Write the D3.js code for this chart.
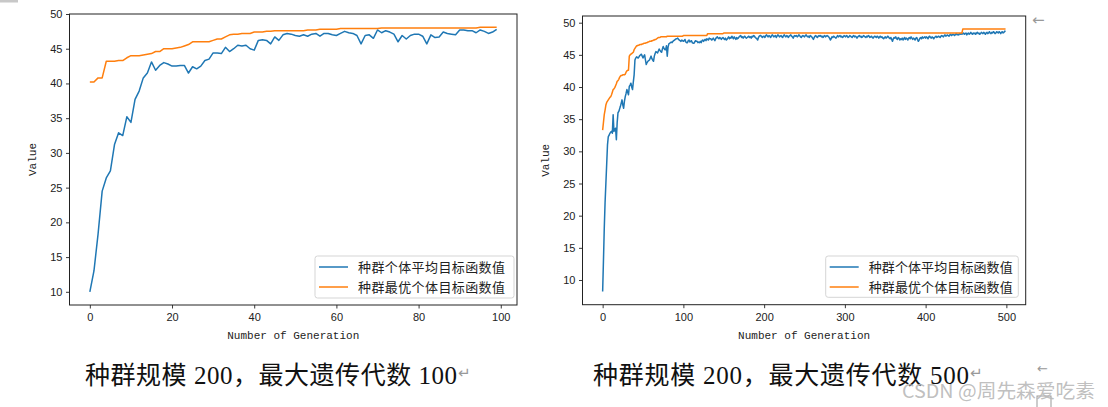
<!DOCTYPE html>
<html><head><meta charset="utf-8">
<script src="https://cdn.jsdelivr.net/npm/d3@7"></script>
<style>body{margin:0;background:#fff}svg{display:block}</style>
</head><body><svg id="c" width="1108" height="407"></svg>
<script>
// ---------- data ----------
const seriesNames = ["种群个体平均目标函数值", "种群最优个体目标函数值"];
const captions = ["种群规模 200，最大遗传代数 100", "种群规模 200，最大遗传代数 500"];
const xTicks100 = [0, 20, 40, 60, 80, 100];
const xTicks500 = [0, 100, 200, 300, 400, 500];
const yTicks = [10, 15, 20, 25, 30, 35, 40, 45, 50];

const avg100 = [
10.0,13.0,18.3,24.5,26.4,27.4,31.2,32.9,32.5,35.2,
34.4,37.7,38.9,40.8,41.5,43.1,41.9,42.6,43.0,42.8,
42.5,42.5,42.6,42.6,41.5,42.4,42.1,42.5,43.3,43.5,
44.4,44.4,44.3,45.2,44.6,45.0,45.5,45.4,45.5,45.0,
44.8,46.2,46.3,46.2,45.7,46.7,46.2,47.0,47.2,47.1,
46.9,46.8,47.0,46.8,47.1,47.2,46.8,47.2,47.2,47.0,
46.9,47.2,47.5,47.3,47.2,46.9,45.7,46.9,47.0,46.5,
47.7,47.3,47.6,47.4,47.1,46.0,46.9,46.4,46.9,47.1,
47.1,46.8,45.7,47.0,46.6,46.7,47.4,47.2,47.1,47.0,
47.7,47.7,47.6,47.6,47.3,47.7,47.5,47.2,47.4,47.8];

const best100 = [
40.2,40.2,40.8,40.8,43.2,43.2,43.2,43.3,43.3,43.7,
44.0,44.0,44.0,44.1,44.2,44.3,44.6,44.6,45.0,45.0,
45.0,45.1,45.2,45.4,45.6,46.0,46.0,46.0,46.0,46.0,
46.2,46.4,46.4,46.7,47.0,47.1,47.1,47.2,47.2,47.2,
47.4,47.4,47.4,47.5,47.5,47.6,47.6,47.6,47.6,47.6,
47.6,47.6,47.6,47.7,47.7,47.7,47.8,47.8,47.8,47.8,
47.8,47.9,47.9,47.9,47.9,47.9,47.9,47.9,47.9,47.9,
47.9,48.0,48.0,48.0,48.0,48.0,48.0,48.0,48.0,48.0,
48.0,48.0,48.0,48.0,48.0,48.0,48.0,48.0,48.0,48.0,
48.0,48.0,48.0,48.0,48.0,48.1,48.1,48.1,48.1,48.1];

const avg500 = [
8.2,13.0,18.0,22.0,25.0,28.0,31.0,32.3,32.5,32.8,33.0,33.1,32.8,35.7,33.1,33.4,33.6,31.8,34.5,36.0,
36.2,36.6,37.0,37.5,38.0,37.2,36.7,37.8,38.5,39.0,39.6,39.2,38.8,40.1,40.3,40.6,40.0,39.6,40.8,41.9,
44.2,44.5,44.7,44.6,44.5,44.7,44.9,45.0,45.1,44.8,44.5,44.8,45.0,44.2,43.5,43.8,44.0,44.1,44.2,44.5,
44.8,44.4,44.2,44.0,44.8,45.2,45.5,45.4,45.3,45.6,45.9,45.7,45.5,45.4,45.9,46.3,46.0,45.8,45.8,46.4,
44.8,46.2,46.7,46.8,46.9,47.0,46.9,47.1,47.2,47.3,47.4,47.5,47.5,47.6,47.4,47.3,47.2,47.1,47.3,47.2,
47.1,47.2,47.4,47.0,46.9,46.9,47.2,47.3,47.0,47.1,47.2,46.9,46.8,46.8,47.0,47.2,47.1,47.1,46.9,47.0,
46.9,47.1,46.9,47.2,47.3,47.1,47.3,47.4,47.2,47.5,47.4,47.3,47.6,47.5,47.5,47.3,47.4,47.6,47.4,47.2,
47.5,47.7,47.8,47.6,47.5,47.7,47.6,47.4,47.6,47.7,47.5,47.4,47.6,47.3,47.4,47.6,47.8,47.5,47.7,47.6,
47.9,47.7,47.5,47.8,47.6,47.4,47.7,47.5,47.6,47.8,47.9,48.0,47.7,47.8,47.6,47.8,47.9,47.7,47.6,47.7,
47.8,47.9,47.7,47.8,47.6,47.9,47.8,48.0,47.9,47.7,47.6,47.5,47.3,47.7,47.9,48.0,48.0,47.8,47.7,47.9,
47.9,47.7,48.0,48.1,47.9,47.8,48.0,47.9,47.7,47.9,48.1,48.0,47.8,47.9,48.0,47.7,47.9,48.1,48.0,47.8,
47.9,48.0,47.8,47.7,48.0,48.1,47.9,47.8,48.0,47.9,47.7,47.9,48.0,48.1,47.9,47.8,47.6,47.9,48.0,47.9,
48.0,47.8,47.9,48.1,48.0,47.8,47.7,47.9,48.0,47.9,47.8,48.0,48.1,47.9,47.8,47.9,47.7,48.0,47.9,47.8,
47.6,47.4,47.7,47.9,48.0,47.8,47.7,47.9,48.0,47.9,48.0,47.8,47.9,47.7,47.9,48.0,47.8,47.9,48.0,47.9,
47.8,47.6,47.3,47.5,47.8,47.7,47.9,47.8,47.7,47.6,47.8,48.0,47.8,47.9,48.0,47.8,47.9,47.7,47.8,48.0,
47.9,47.8,48.0,47.9,47.7,47.8,48.0,47.9,47.8,47.7,47.9,48.0,47.8,47.9,47.8,47.6,47.8,47.9,48.0,47.8,
47.9,47.7,47.8,48.0,47.9,47.8,47.7,47.9,47.8,48.0,47.9,47.7,47.8,47.9,47.7,47.6,47.8,47.9,47.8,47.7,
47.9,47.8,47.6,47.8,47.9,47.7,47.8,47.6,47.5,47.7,47.8,47.6,47.7,47.9,47.8,47.6,47.5,47.7,47.4,47.1,
47.5,47.7,47.6,47.8,47.5,47.4,47.7,47.6,47.3,47.5,47.4,47.6,47.3,47.5,47.7,47.4,47.6,47.5,47.3,47.6,
47.7,47.5,47.8,47.6,47.4,47.6,47.5,47.3,47.6,47.7,47.4,47.1,47.3,47.6,47.7,47.5,47.8,47.6,47.7,47.8,
47.6,47.8,47.7,47.5,47.8,47.9,47.7,47.6,47.8,47.7,47.5,47.7,47.8,47.9,47.7,47.8,47.9,47.8,47.7,47.9,
48.0,47.9,47.8,48.0,48.1,47.9,48.0,48.1,48.0,47.9,48.1,48.2,48.0,48.1,48.2,48.1,48.0,48.2,48.3,48.1,
48.2,48.1,48.3,48.2,48.3,48.2,48.3,48.4,48.2,48.3,48.4,48.1,48.3,48.4,48.2,48.3,48.5,48.3,48.2,48.4,
48.3,48.4,48.2,48.4,48.5,48.3,48.4,48.2,48.3,48.5,48.4,48.3,48.5,48.4,48.2,48.4,48.5,48.3,48.4,48.6,
48.4,48.3,48.5,48.4,48.6,48.5,48.3,48.4,48.6,48.5,48.4,48.6,48.5,48.3,48.5,48.6,48.4,48.5,48.7,48.6];

const best500 = [
33.3,34.5,35.7,36.4,37.2,37.6,37.8,38.0,38.2,38.4,38.5,38.8,39.2,39.6,39.7,39.9,40.2,40.5,40.9,41.0,
41.2,41.5,41.7,41.8,41.8,41.9,41.9,41.9,42.0,42.3,42.5,42.6,42.6,44.8,45.0,45.1,45.2,45.3,45.4,45.8,
46.0,46.2,46.4,46.4,46.5,46.5,46.6,46.6,46.6,46.7,46.7,46.8,46.8,46.8,46.9,46.9,47.0,47.0,47.1,47.1,
47.1,47.2,47.2,47.3,47.3,47.4,47.4,47.5,47.6,47.7,47.7,47.7,47.8,47.8,47.8,47.8,47.8,47.8,47.8,47.8,
47.9,47.9,47.9,47.9,47.9,47.9,47.9,47.9,47.9,47.9,47.9,47.9,47.9,47.9,47.9,47.9,47.9,47.9,47.9,47.9,
48.0,48.0,48.0,48.0,48.0,48.0,48.0,48.0,48.0,48.0,48.0,48.0,48.0,48.0,48.0,48.0,48.0,48.0,48.0,48.0,
48.0,48.0,48.0,48.0,48.0,48.0,48.0,48.0,48.0,48.0,48.3,48.3,48.3,48.3,48.3,48.3,48.3,48.3,48.3,48.3,
48.3,48.3,48.3,48.3,48.3,48.3,48.3,48.3,48.3,48.3,48.4,48.4,48.4,48.4,48.4,48.4,48.4,48.4,48.4,48.4,
48.4,48.4,48.4,48.4,48.4,48.4,48.4,48.4,48.4,48.4,48.4,48.4,48.4,48.4,48.4,48.4,48.4,48.4,48.4,48.4,
48.4,48.4,48.4,48.4,48.4,48.4,48.4,48.4,48.4,48.4,48.4,48.4,48.4,48.4,48.4,48.4,48.4,48.4,48.4,48.4,
48.4,48.4,48.4,48.4,48.4,48.4,48.4,48.4,48.4,48.4,48.4,48.4,48.4,48.4,48.4,48.4,48.4,48.4,48.4,48.4,
48.4,48.4,48.4,48.4,48.4,48.4,48.4,48.4,48.4,48.4,48.4,48.4,48.4,48.4,48.4,48.4,48.4,48.4,48.4,48.4,
48.4,48.4,48.4,48.4,48.4,48.4,48.4,48.4,48.4,48.4,48.4,48.4,48.4,48.4,48.4,48.4,48.4,48.4,48.4,48.4,
48.4,48.4,48.4,48.4,48.4,48.4,48.4,48.4,48.4,48.4,48.4,48.4,48.4,48.4,48.4,48.4,48.4,48.4,48.4,48.4,
48.4,48.4,48.4,48.4,48.4,48.4,48.4,48.4,48.4,48.4,48.4,48.4,48.4,48.4,48.4,48.4,48.4,48.4,48.4,48.4,
48.4,48.4,48.4,48.4,48.4,48.4,48.4,48.4,48.4,48.4,48.4,48.4,48.4,48.4,48.4,48.4,48.4,48.4,48.4,48.4,
48.4,48.4,48.4,48.4,48.4,48.4,48.4,48.4,48.4,48.4,48.4,48.4,48.4,48.4,48.4,48.4,48.4,48.4,48.4,48.4,
48.4,48.4,48.4,48.4,48.4,48.4,48.4,48.4,48.4,48.4,48.4,48.4,48.4,48.4,48.4,48.4,48.4,48.4,48.4,48.4,
48.4,48.4,48.4,48.4,48.4,48.4,48.4,48.4,48.4,48.4,48.4,48.4,48.4,48.4,48.4,48.4,48.4,48.4,48.4,48.4,
48.4,48.4,48.4,48.4,48.4,48.4,48.4,48.4,48.4,48.4,48.4,48.4,48.4,48.4,48.4,48.4,48.4,48.4,48.4,48.4,
48.4,48.4,48.4,48.4,48.4,48.4,48.4,48.4,48.4,48.4,48.4,48.4,48.4,48.4,48.4,48.4,48.4,48.4,48.4,48.4,
48.4,48.4,48.4,48.4,48.4,48.4,48.4,48.4,48.4,48.4,48.4,48.4,48.4,48.4,48.4,48.4,48.4,48.4,48.4,48.4,
48.4,48.4,48.4,48.4,48.4,48.4,49.0,49.0,49.0,49.0,49.0,49.0,49.0,49.0,49.0,49.0,49.0,49.0,49.0,49.0,
49.0,49.0,49.0,49.0,49.0,49.0,49.0,49.0,49.0,49.0,49.0,49.0,49.0,49.0,49.0,49.0,49.0,49.0,49.0,49.0,
49.0,49.0,49.0,49.0,49.0,49.0,49.0,49.0,49.0,49.0,49.0,49.0,49.0,49.0,49.0,49.0,49.0,49.0,49.0,49.0];

const colors = ["#1f77b4", "#ff7f0e"];

// ---------- drawing ----------
const svg = d3.select("#c");
const tickFont = "'Liberation Sans', Arial, sans-serif";
const monoFont = "'Liberation Mono', 'DejaVu Sans Mono', monospace";
const cjkFont = "'Noto Sans CJK SC', sans-serif";

svg.append("rect").attr("x",0).attr("y",0).attr("width",18).attr("height",2.5).attr("fill","#c8c8c8");

function chart(o) {
  const x = d3.scaleLinear().domain(o.xd).range([o.l, o.r]);
  const y = d3.scaleLinear().domain(o.yd).range([o.b, o.t]);
  const g = svg.append("g");

  const xa = g.append("g").attr("transform", `translate(0,${o.b})`)
    .call(d3.axisBottom(x).tickValues(o.xt).tickSize(3.5).tickPadding(5).tickFormat(d3.format("d")));
  const ya = g.append("g").attr("transform", `translate(${o.l},0)`)
    .call(d3.axisLeft(y).tickValues(yTicks).tickSize(3.5).tickPadding(3.5).tickFormat(d3.format("d")));
  [xa, ya].forEach(a => {
    a.select(".domain").remove();
    a.selectAll("line").attr("stroke", "#222").attr("stroke-width", 0.9);
    a.selectAll("text").attr("fill", "#222").style("font-family", tickFont).style("font-size", "11px");
  });

  const line = d3.line().x((d, i) => x(i)).y(d => y(d));
  o.series.forEach((s, k) => {
    g.append("path").datum(s).attr("d", line).attr("fill", "none")
      .attr("stroke", colors[k]).attr("stroke-width", 1.5).attr("stroke-linejoin", "round");
  });

  g.append("rect").attr("x", o.l).attr("y", o.t).attr("width", o.r - o.l).attr("height", o.b - o.t)
    .attr("fill", "none").attr("stroke", "#222").attr("stroke-width", 1);

  g.append("text").attr("x", (o.l + o.r) / 2).attr("y", 339).attr("text-anchor", "middle")
    .style("font-family", monoFont).style("font-size", "11px").attr("fill", "#222")
    .text("Number of Generation");
  g.append("text").attr("transform", `translate(${o.yl},${(o.t + o.b) / 2}) rotate(-90)`)
    .attr("text-anchor", "middle").style("font-family", monoFont).style("font-size", "11px").attr("fill", "#222")
    .text("Value");

  // legend
  const L = o.leg;
  g.append("rect").attr("x", L.x).attr("y", L.y).attr("width", L.w).attr("height", L.h).attr("rx", 2.5)
    .attr("fill", "#fff").attr("fill-opacity", 0.85).attr("stroke", "#d5d5d5").attr("stroke-width", 1);
  seriesNames.forEach((nm, k) => {
    const yy = L.y + 11 + k * 20;
    g.append("line").attr("x1", L.x + 4).attr("x2", L.x + 33).attr("y1", yy).attr("y2", yy)
      .attr("stroke", colors[k]).attr("stroke-width", 1.5);
    g.append("text").attr("x", L.x + 43).attr("y", yy + 4.8)
      .attr("textLength", L.tw).attr("lengthAdjust", "spacing")
      .style("font-family", cjkFont).style("font-size", "13px").attr("fill", "#222").text(nm);
  });

  // caption
  const c = g.append("text").attr("x", o.cx).attr("y", 384)
    .style("font-family", "'Liberation Serif', 'Noto Sans CJK SC', serif").style("font-size", "25px").attr("fill", "#111");
  c.append("tspan").attr("textLength", o.cw).attr("lengthAdjust", "spacing").text(o.cap);
  g.append("text").attr("x", o.cx + o.cw + 1).attr("y", 378)
    .style("font-family", "'DejaVu Sans', sans-serif").style("font-size", "15px").attr("fill", "#999").text("↵");
}

chart({
  series: [avg100, best100], xd: [-4.95, 103.95], yd: [8.1, 50.0],
  l: 69.5, r: 517, t: 14, b: 305, xt: xTicks100, yl: 36,
  leg: {x: 315, y: 256, w: 199, h: 42, tw: 147},
  cap: captions[0], cx: 85, cw: 372
});
chart({
  series: [avg500, best500], xd: [-24.95, 523.95], yd: [6.16, 51.04],
  l: 582.5, r: 1025.7, t: 16, b: 304.7, xt: xTicks500, yl: 549,
  leg: {x: 825.7, y: 256, w: 192.6, h: 41.3, tw: 144},
  cap: captions[1], cx: 593, cw: 376
});

// page decorations present in the screenshot
svg.append("text").attr("x", 1032).attr("y", 25).style("font-family", "'DejaVu Sans', sans-serif")
  .style("font-size", "15px").attr("fill", "#999").text("←");
svg.append("text").attr("x", 1037).attr("y", 373).style("font-family", "'DejaVu Sans', sans-serif")
  .style("font-size", "13px").attr("fill", "#999").text("←");
svg.append("rect").attr("x", 1037).attr("y", 396).attr("width", 14).attr("height", 12)
  .attr("fill", "none").attr("stroke", "#999").attr("stroke-width", 1);
svg.append("text").attr("x", 902).attr("y", 398).attr("textLength", 193).attr("lengthAdjust", "spacingAndGlyphs")
  .style("font-family", "'Noto Sans CJK SC', sans-serif").style("font-size", "19px")
  .attr("fill", "#b8b8b8").attr("fill-opacity", 0.9).text("CSDN @周先森爱吃素");
</script></body></html>
